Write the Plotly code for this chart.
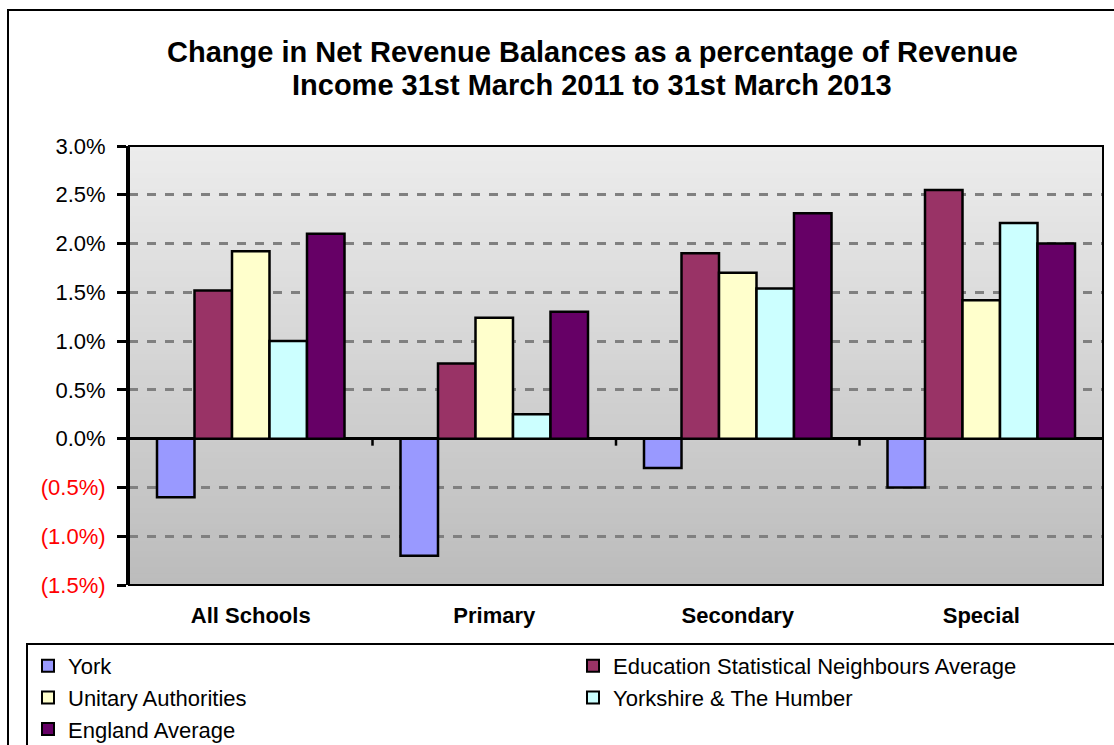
import plotly.graph_objects as go

# Data
categories = ["All Schools", "Primary", "Secondary", "Special"]
york = [-0.60, -1.20, -0.30, -0.50]
esn_average = [1.52, 0.77, 1.90, 2.55]
unitary = [1.92, 1.24, 1.70, 1.42]
yorkshire_humber = [1.00, 0.25, 1.54, 2.21]
england_average = [2.10, 1.30, 2.31, 2.00]

series_names = [
    "York",
    "Education Statistical Neighbours Average",
    "Unitary Authorities",
    "Yorkshire & The Humber",
    "England Average",
]
series_values = [york, esn_average, unitary, yorkshire_humber, england_average]
series_colors = ["#9999FF", "#993366", "#FFFFCC", "#CCFFFF", "#660066"]

y_tick_values = [3.0, 2.5, 2.0, 1.5, 1.0, 0.5, 0.0, -0.5, -1.0, -1.5]
y_tick_labels = ["3.0%", "2.5%", "2.0%", "1.5%", "1.0%", "0.5%", "0.0%",
                 "(0.5%)", "(1.0%)", "(1.5%)"]

title_lines = [
    "Change in Net Revenue Balances as a percentage of Revenue",
    "Income 31st March 2011 to 31st March 2013",
]

FONT = "Liberation Sans, Arial, sans-serif"

# pixel geometry of the plot area inside the 1114x745 canvas
PL, PR, PT, PB = 129, 1103, 146, 585


def px_x(px):
    return (px - PL) / (PR - PL)


def px_y(py):
    return (PB - py) / (PB - PT)


fig = go.Figure()
for name, vals, col in zip(series_names, series_values, series_colors):
    fig.add_trace(go.Bar(
        x=categories, y=vals, name=name,
        marker=dict(color=col, line=dict(color="black", width=2.5)),
    ))

# tick labels: negatives shown in red
tick_text = [
    f'<span style="color:#FF0000">{t}</span>' if v < 0 else t
    for v, t in zip(y_tick_values, y_tick_labels)
]

# vertical grey gradient behind the plot area
shapes = []
n_strips = 80
top_rgb, bot_rgb = (236, 236, 236), (188, 188, 188)
for i in range(n_strips):
    f = i / (n_strips - 1)
    c = tuple(round(top_rgb[k] + (bot_rgb[k] - top_rgb[k]) * f) for k in range(3))
    shapes.append(dict(
        type="rect", xref="x domain", yref="y domain", layer="below",
        x0=0, x1=1, y0=1 - (i + 1) / n_strips, y1=1 - i / n_strips + 0.002,
        fillcolor=f"rgb{c}", line=dict(width=0),
    ))
# plot area frame
shapes.append(dict(type="rect", xref="x domain", yref="y domain",
                   x0=0, x1=1, y0=0, y1=1, layer="above",
                   line=dict(color="black", width=2)))
# small category separators hanging from the zero line
for b in [0.5, 1.5, 2.5]:
    shapes.append(dict(type="line", xref="x", yref="y", ysizemode="pixel",
                       yanchor=0, x0=b, x1=b, y0=0, y1=-7,
                       line=dict(color="black", width=2.5)))
# outer chart border
shapes.append(dict(type="rect", xref="paper", yref="paper",
                   x0=px_x(8), x1=px_x(1125), y0=px_y(760), y1=px_y(10),
                   line=dict(color="black", width=2), layer="below",
                   fillcolor="rgba(0,0,0,0)"))

# two-line bold title
annotations = []
for line, cy in zip(title_lines, [52, 85]):
    annotations.append(dict(
        text=f"<b>{line}</b>", xref="paper", yref="paper",
        x=px_x(592), y=px_y(cy), xanchor="center", yanchor="middle",
        showarrow=False, font=dict(family=FONT, size=29, color="black"),
    ))

fig.update_layout(
    width=1114, height=745,
    margin=dict(l=PL, r=1114 - PR, t=PT, b=745 - PB, autoexpand=False),
    paper_bgcolor="white",
    plot_bgcolor="rgba(0,0,0,0)",
    font=dict(family=FONT, color="black"),
    barmode="group",
    bargap=0.23,
    bargroupgap=0,
    xaxis=dict(
        showgrid=False, showline=False, zeroline=False,
        ticks="outside", ticklen=11, tickcolor="rgba(0,0,0,0)",
        tickfont=dict(family=FONT, size=22, color="black", weight="bold"),
    ),
    yaxis=dict(
        range=[-1.5, 3.0],
        tickvals=y_tick_values, ticktext=tick_text,
        tickfont=dict(family=FONT, size=22, color="black"),
        ticks="outside", ticklen=9, tickwidth=3, tickcolor="black",
        ticklabelstandoff=7,
        showline=True, linecolor="black", linewidth=3,
        showgrid=True, gridcolor="#808080", gridwidth=2.5, griddash="dash",
        zeroline=True, zerolinecolor="black", zerolinewidth=3,
    ),
    legend=dict(
        orientation="h",
        x=px_x(26), xanchor="left",
        y=px_y(643), yanchor="top",
        bgcolor="white", bordercolor="black", borderwidth=2,
        font=dict(family=FONT, size=22, color="black"),
        entrywidth=500, entrywidthmode="pixels",
        traceorder="normal",
        itemsizing="constant",
    ),
    shapes=shapes,
    annotations=annotations,
)

fig.write_html("out.html")
